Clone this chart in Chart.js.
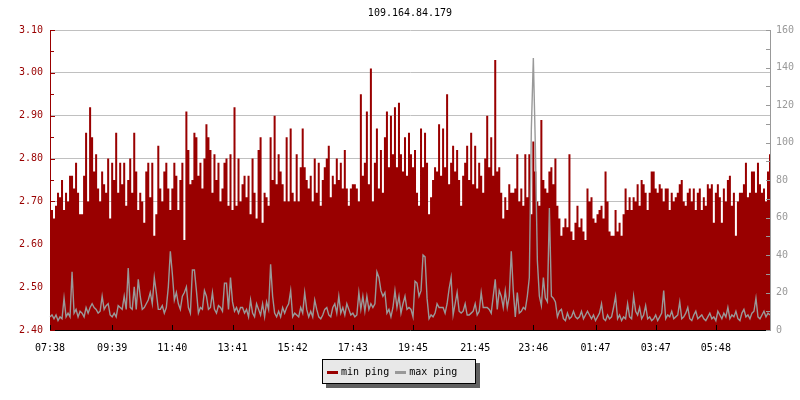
<!DOCTYPE html>
<html lang="en">
<head>
  <meta charset="UTF-8" />
  <title>109.164.84.179</title>
  <style>
    body { margin: 0; background: #ffffff; }
    .wrap { position: relative; width: 800px; height: 400px; }
    .legend {
      position: absolute;
      left: 322px;
      top: 359px;
      width: 154px;
      height: 25px;
      box-sizing: border-box;
      border: 1px solid #000;
      background: #e8e8e8;
      box-shadow: 4px 4px 0 #606060;
      font: 10px 'DejaVu Sans Mono', monospace;
      line-height: 23px;
      padding-left: 4px;
      white-space: nowrap;
      color: #000;
    }
    .sw { display: inline-block; width: 11px; height: 3px; vertical-align: middle; margin-right: 3px; }
    .sw.max { margin-left: 6px; }
  </style>
</head>
<body>
<div class="wrap">
  <canvas id="pingChart" width="800" height="400"></canvas>
  <div class="legend">
    <span class="sw" style="background:#990000"></span>min ping<span class="sw max" style="background:#999999"></span>max ping
  </div>
</div>

<script src="https://cdn.jsdelivr.net/npm/chart.js"></script>
<script>
  // tick labels on the time axis and the sample index each one sits on
  const tickLabels = ['07:38', '09:39', '11:40', '13:41', '15:42', '17:43', '19:45', '21:45', '23:46', '01:47', '03:47', '05:48'];
  const tickIndex = [0, 31, 61, 91, 121, 151, 181, 212, 241, 272, 302, 332];

  // min ping (left axis)
  const minPing = [
    2.74,2.68,2.66,2.69,2.72,2.71,2.75,2.68,2.72,2.70,
    2.76,2.76,2.73,2.79,2.72,2.67,2.67,2.76,2.86,2.70,
    2.92,2.85,2.77,2.81,2.73,2.70,2.77,2.74,2.72,2.80,
    2.66,2.79,2.75,2.86,2.72,2.79,2.74,2.79,2.69,2.75,
    2.80,2.72,2.86,2.77,2.68,2.72,2.70,2.65,2.77,2.79,
    2.71,2.79,2.62,2.67,2.83,2.73,2.70,2.77,2.79,2.73,
    2.68,2.73,2.79,2.76,2.68,2.75,2.79,2.61,2.91,2.82,
    2.74,2.75,2.86,2.85,2.76,2.79,2.73,2.80,2.88,2.85,
    2.82,2.72,2.81,2.75,2.79,2.70,2.73,2.79,2.80,2.69,

    2.81,2.68,2.92,2.69,2.80,2.70,2.74,2.76,2.71,2.76,
    2.67,2.80,2.72,2.66,2.82,2.85,2.65,2.72,2.71,2.69,
    2.85,2.75,2.90,2.74,2.81,2.77,2.74,2.70,2.85,2.70,
    2.87,2.72,2.70,2.81,2.70,2.78,2.87,2.78,2.75,2.73,
    2.76,2.70,2.80,2.72,2.79,2.69,2.75,2.78,2.80,2.83,
    2.71,2.76,2.74,2.80,2.75,2.79,2.73,2.82,2.73,2.69,
    2.73,2.74,2.74,2.73,2.70,2.95,2.76,2.79,2.91,2.74,
    3.01,2.70,2.79,2.87,2.73,2.82,2.72,2.85,2.91,2.78,
    2.90,2.81,2.92,2.78,2.93,2.81,2.77,2.85,2.76,2.86,

    2.81,2.78,2.82,2.72,2.69,2.87,2.78,2.86,2.79,2.67,
    2.71,2.75,2.78,2.77,2.88,2.76,2.87,2.78,2.95,2.74,
    2.79,2.83,2.77,2.82,2.75,2.69,2.76,2.79,2.83,2.75,
    2.86,2.74,2.83,2.73,2.79,2.76,2.72,2.80,2.90,2.78,
    2.85,2.76,3.03,2.77,2.78,2.72,2.66,2.71,2.68,2.74,
    2.72,2.72,2.73,2.81,2.70,2.73,2.69,2.81,2.71,2.81,
    2.67,2.84,2.77,2.70,2.69,2.89,2.75,2.73,2.72,2.77,
    2.78,2.74,2.80,2.69,2.66,2.62,2.64,2.66,2.64,2.81,
    2.63,2.61,2.65,2.69,2.64,2.66,2.63,2.61,2.73,2.70,

    2.71,2.66,2.65,2.67,2.68,2.69,2.66,2.77,2.70,2.63,
    2.62,2.62,2.68,2.63,2.65,2.62,2.67,2.73,2.68,2.71,
    2.68,2.71,2.70,2.74,2.69,2.75,2.74,2.72,2.68,2.72,
    2.77,2.77,2.73,2.72,2.74,2.73,2.70,2.73,2.73,2.68,
    2.72,2.70,2.71,2.72,2.74,2.75,2.70,2.69,2.72,2.73,
    2.70,2.73,2.68,2.72,2.73,2.68,2.71,2.69,2.74,2.73,
    2.74,2.65,2.72,2.74,2.71,2.65,2.73,2.70,2.75,2.76,
    2.69,2.72,2.62,2.70,2.72,2.72,2.74,2.79,2.71,2.72,
    2.77,2.77,2.72,2.79,2.74,2.72,2.73,2.70,2.77,2.81
  ];

  // max ping (right axis)
  const maxPing = [
    7,8,6,8,5,7,6,17,7,9,
    7,31,9,11,7,10,9,7,12,9,
    12,14,12,11,9,10,18,11,13,14,
    8,7,9,7,13,12,11,18,11,33,
    12,11,23,11,27,18,11,12,14,16,
    20,14,28,20,11,11,13,9,12,23,
    42,30,16,20,14,11,18,20,23,12,
    9,32,32,21,9,12,11,21,18,11,
    12,20,11,9,13,12,10,25,25,11,

    28,15,10,12,9,12,12,9,11,7,
    16,9,7,14,11,8,14,7,15,11,
    35,18,9,7,10,7,12,9,12,14,
    21,7,9,8,7,12,9,20,11,7,
    10,7,16,11,7,6,8,11,12,8,
    7,12,14,9,18,9,12,8,14,11,
    8,9,7,8,20,11,18,10,18,11,
    14,12,14,31,28,21,18,20,9,11,
    7,12,21,12,18,9,14,18,11,12,

    11,7,26,25,18,21,40,39,17,6,
    8,7,9,14,12,12,12,9,14,22,
    28,8,14,20,10,9,10,14,8,8,
    9,10,14,8,10,20,12,12,12,11,
    9,18,27,11,21,18,12,21,12,18,
    42,21,7,20,9,10,12,11,18,28,
    107,145,98,37,18,13,28,17,15,65,
    18,17,15,7,10,11,6,5,9,6,
    7,10,7,6,7,10,6,8,10,8,

    6,8,5,7,9,14,6,5,8,6,
    7,12,18,6,8,5,7,6,14,7,
    6,18,10,8,12,6,8,13,6,7,
    5,6,8,5,7,9,21,6,8,7,
    10,6,7,8,15,6,7,9,12,6,
    5,8,10,6,7,8,6,5,7,9,
    6,7,5,10,8,6,9,7,12,6,
    8,7,10,6,5,9,11,7,8,6,
    9,10,17,7,6,8,10,7,9,8
  ];

  const RED = '#990000';
  const GRAY = '#999999';

  const labels = minPing.map((_, i) => {
    const k = tickIndex.indexOf(i);
    return k >= 0 ? tickLabels[k] : '';
  });

  Chart.defaults.font.family = "'DejaVu Sans Mono', monospace";
  Chart.defaults.font.size = 10;

  // tick marks that point into the plot, like the original
  const innerTicks = {
    id: 'innerTicks',
    afterDatasetsDraw(chart) {
      const { ctx, chartArea: a, scales: { x, y, y1 } } = chart;
      const hline = (x0, x1, py) => {
        const yy = Math.round(py) + 0.5;
        ctx.beginPath(); ctx.moveTo(x0, yy); ctx.lineTo(x1, yy); ctx.stroke();
      };
      ctx.save();
      ctx.lineWidth = 1;

      ctx.strokeStyle = RED;
      y.ticks.forEach((t, i) => {
        hline(a.left, a.left + 5, y.getPixelForValue(t.value));
        if (i < y.ticks.length - 1) {
          const mid = (t.value + y.ticks[i + 1].value) / 2;
          hline(a.left, a.left + 4, y.getPixelForValue(mid));
        }
      });

      ctx.strokeStyle = GRAY;
      y1.ticks.forEach((t, i) => {
        hline(a.right - 4, a.right, y1.getPixelForValue(t.value));
        if (i < y1.ticks.length - 1) {
          const mid = (t.value + y1.ticks[i + 1].value) / 2;
          hline(a.right - 4, a.right, y1.getPixelForValue(mid));
        }
      });

      ctx.strokeStyle = '#000';
      tickIndex.forEach(i => {
        const px = Math.round(x.getPixelForValue(i)) + 0.5;
        ctx.beginPath(); ctx.moveTo(px, a.bottom - 5); ctx.lineTo(px, a.bottom); ctx.stroke();
      });
      ctx.restore();
    }
  };

  new Chart(document.getElementById('pingChart').getContext('2d'), {
    type: 'line',
    data: {
      labels: labels,
      datasets: [
        {
          label: 'max ping',
          data: maxPing,
          yAxisID: 'y1',
          borderColor: GRAY,
          borderWidth: 1.4,
          pointRadius: 0,
          fill: false,
          order: 0
        },
        {
          label: 'min ping',
          data: minPing,
          yAxisID: 'y',
          borderColor: RED,
          backgroundColor: RED,
          borderWidth: 0,
          pointRadius: 0,
          stepped: 'middle',
          fill: 'start',
          order: 1
        }
      ]
    },
    options: {
      responsive: false,
      animation: false,
      events: [],
      plugins: {
        legend: { display: false },
        tooltip: { enabled: false },
        title: {
          display: true,
          text: '109.164.84.179',
          color: '#000',
          fullSize: false,
          font: { size: 10, weight: 'normal' },
          padding: { top: 7, bottom: 11 }
        }
      },
      scales: {
        x: {
          type: 'category',
          offset: false,
          grid: { display: false },
          border: { color: '#000', width: 1 },
          ticks: {
            autoSkip: false,
            maxRotation: 0,
            minRotation: 0,
            color: '#000',
            padding: 4,
            callback: (v, i) => labels[i]
          },
          afterFit: s => { s.height = 70; }
        },
        y: {
          position: 'left',
          min: 2.4,
          max: 3.1,
          grid: { color: '#c0c0c0', drawTicks: false },
          border: { color: RED, width: 1 },
          ticks: {
            stepSize: 0.1,
            color: RED,
            padding: 7,
            callback: v => v.toFixed(2)
          },
          afterFit: s => { s.width = 50; }
        },
        y1: {
          position: 'right',
          min: 0,
          max: 160,
          grid: { display: false, drawTicks: false },
          border: { color: GRAY, width: 1 },
          ticks: { stepSize: 20, color: GRAY, padding: 6 },
          afterFit: s => { s.width = 30; }
        }
      }
    },
    plugins: [innerTicks]
  });
</script>
</body>
</html>
